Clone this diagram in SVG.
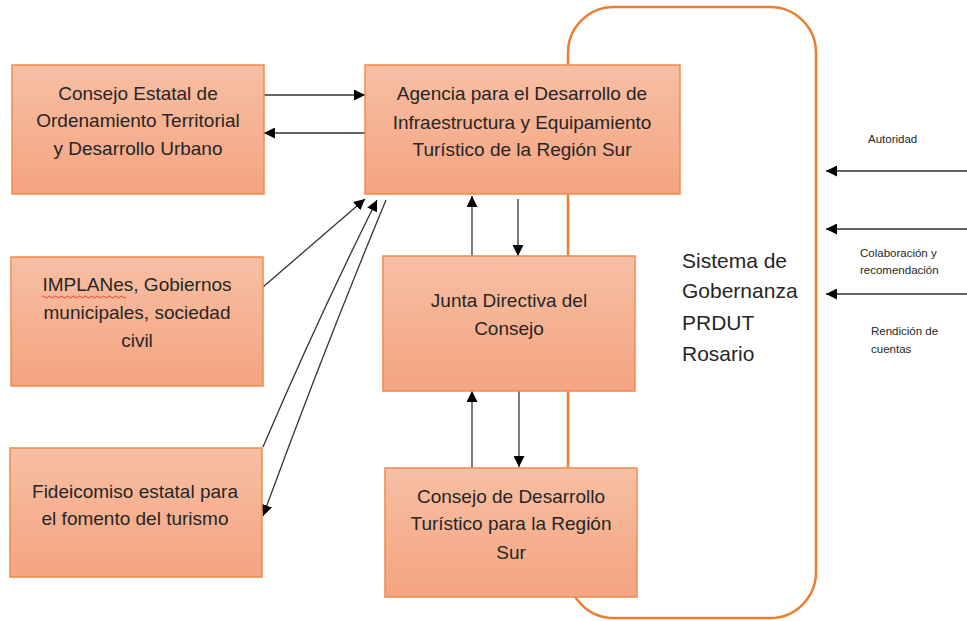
<svg xmlns="http://www.w3.org/2000/svg" width="967" height="621" viewBox="0 0 967 621">
<defs>
<linearGradient id="g" x1="0" y1="0" x2="0" y2="1">
<stop offset="0" stop-color="#F7BFA4"/>
<stop offset="1" stop-color="#F4A480"/>
</linearGradient>
<marker id="ah" viewBox="0 0 10 10" refX="10" refY="5" markerWidth="11" markerHeight="11" markerUnits="userSpaceOnUse" orient="auto">
<path d="M0,0 L10,5 L0,10 z" fill="#000"/>
</marker>
<style>
.box{fill:url(#g);stroke:#F08A4E;stroke-width:1.5}
.t{font-family:"Liberation Sans",Arial,sans-serif;font-size:19px;fill:#262626;text-anchor:middle}
.s{font-family:"Liberation Sans",Arial,sans-serif;font-size:11.5px;fill:#262626}
.big{font-family:"Liberation Sans",Arial,sans-serif;font-size:21px;fill:#262626}
.c{stroke:#333;stroke-width:1.3;fill:none;marker-end:url(#ah)}
</style>
</defs>
<rect width="967" height="621" fill="#fff"/>
<g id="sistema">
<rect x="568" y="7" width="248" height="611" rx="46" ry="46" fill="none" stroke="#ED7D31" stroke-width="2.5"/>
<text class="big" x="682" y="268">Sistema de</text>
<text class="big" x="682" y="298">Gobernanza</text>
<text class="big" x="682" y="330">PRDUT</text>
<text class="big" x="682" y="361">Rosario</text>
</g>
<g id="connectors">
<line class="c" x1="264" y1="95" x2="365" y2="95"/>
<line class="c" x1="365" y1="133" x2="264" y2="133"/>
<line class="c" x1="472" y1="256" x2="472" y2="196"/>
<line class="c" x1="518" y1="199" x2="518" y2="256"/>
<line class="c" x1="472" y1="468" x2="472" y2="391"/>
<line class="c" x1="519" y1="391" x2="519" y2="467"/>
<line class="c" x1="263" y1="287" x2="365" y2="199"/>
<path class="c" d="M263,447 Q318,318 377,200"/>
<path class="c" d="M386,200 Q323,352 263,516"/>
<line class="c" x1="967" y1="171" x2="826" y2="171"/>
<line class="c" x1="967" y1="229" x2="826" y2="229"/>
<line class="c" x1="967" y1="294" x2="826" y2="294"/>
</g>
<g id="labels">
<text class="s" x="868" y="143">Autoridad</text>
<text class="s" x="860" y="257">Colaboración y</text>
<text class="s" x="860" y="274">recomendación</text>
<text class="s" x="871" y="335">Rendición de</text>
<text class="s" x="871" y="353">cuentas</text>
</g>
<g id="consejo-estatal">
<rect class="box" x="12" y="65" width="252" height="129"/>
<text class="t" x="138" y="100">Consejo Estatal de</text>
<text class="t" x="138" y="127">Ordenamiento Territorial</text>
<text class="t" x="138" y="155">y Desarrollo Urbano</text>
</g>
<g id="agencia">
<rect class="box" x="365" y="65" width="315" height="129"/>
<text class="t" x="522" y="100">Agencia para el Desarrollo de</text>
<text class="t" x="522" y="129">Infraestructura y Equipamiento</text>
<text class="t" x="522" y="156">Turístico de la Región Sur</text>
</g>
<g id="implanes">
<rect class="box" x="11" y="257" width="252" height="129"/>
<text class="t" x="137" y="291">IMPLANes, Gobiernos</text>
<text class="t" x="137" y="319">municipales, sociedad</text>
<text class="t" x="137" y="347">civil</text>
<path d="M42,297 q1.5,-2 3,0 t3,0 t3,0 t3,0 t3,0 t3,0 t3,0 t3,0 t3,0 t3,0 t3,0 t3,0 t3,0 t3,0 t3,0 t3,0 t3,0 t3,0 t3,0 t3,0 t3,0 t3,0 t3,0 t3,0 t3,0 t3,0 t3,0 t3,0" fill="none" stroke="#E02020" stroke-width="0.8"/>
</g>
<g id="fideicomiso">
<rect class="box" x="10" y="448" width="252" height="129"/>
<text class="t" x="135" y="498">Fideicomiso estatal para</text>
<text class="t" x="135" y="525">el fomento del turismo</text>
</g>
<g id="junta">
<rect class="box" x="383" y="256" width="252" height="135"/>
<text class="t" x="509" y="307">Junta Directiva del</text>
<text class="t" x="509" y="335">Consejo</text>
</g>
<g id="consejo-desarrollo">
<rect class="box" x="385" y="468" width="252" height="129"/>
<text class="t" x="511" y="503">Consejo de Desarrollo</text>
<text class="t" x="511" y="530">Turístico para la Región</text>
<text class="t" x="511" y="559">Sur</text>
</g>
</svg>
